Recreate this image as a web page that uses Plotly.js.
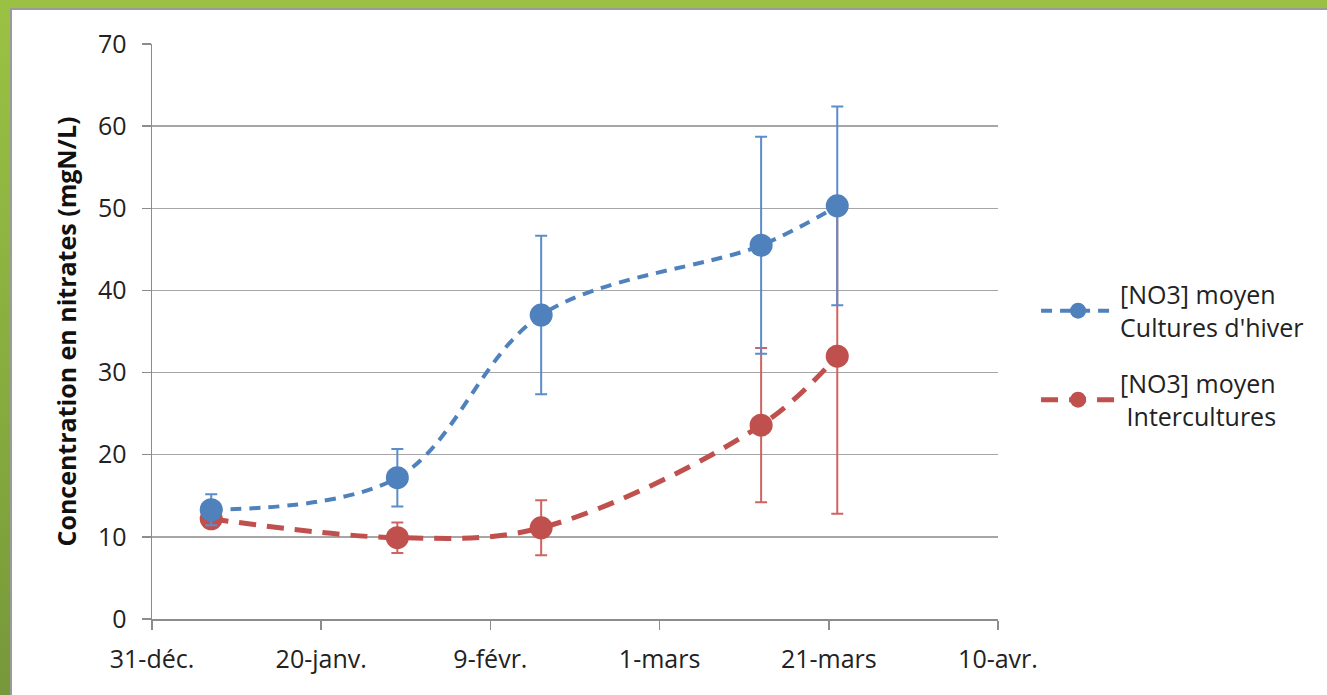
<!DOCTYPE html>
<html>
<head>
<meta charset="utf-8">
<script src="https://cdn.plot.ly/plotly-3.0.1.min.js"></script>
<style>
html,body{margin:0;padding:0;width:1327px;height:695px;overflow:hidden;}
body{background:linear-gradient(180deg,#9bc144 0%,#86aa3e 60%,#77973a 100%);}
#frame{position:absolute;left:10px;top:8px;width:1317px;height:687px;background:#fff;border-left:2px solid #9a9a9a;border-top:2px solid #9a9a9a;box-sizing:border-box;}
#chart{position:absolute;left:0;top:0;width:1315px;height:685px;}
</style>
</head>
<body>
<div id="frame"><div id="chart"></div></div>
<script>
const dates = ['2010-01-07','2010-01-29','2010-02-15','2010-03-13','2010-03-22'];
const culturesHiver = [13.3, 17.2, 37.0, 45.5, 50.3];
const culturesHiverErr = [1.9, 3.5, 9.65, 13.2, 12.1];
const intercultures = [12.2, 9.9, 11.1, 23.6, 32.0];
const interculturesErr = [1.0, 1.85, 3.35, 9.4, 19.2];
const tickVals = ['2009-12-31','2010-01-20','2010-02-09','2010-03-01','2010-03-21','2010-04-10'];
const tickText = ['31-déc.','20-janv.','9-févr.','1-mars','21-mars','10-avr.'];
const seriesNames = ['[NO3] moyen<br>Cultures d\'hiver','[NO3] moyen<br> Intercultures'];

const red = {
  x: dates, y: intercultures, name: seriesNames[1], legendgroup: 'b', legendrank: 2, type: 'scatter', mode: 'lines+markers',
  line: {color: '#c0504d', width: 5, dash: '17px,11px', shape: 'spline', smoothing: 1},
  marker: {color: '#c0504d', size: 23},
  error_y: {type: 'data', array: interculturesErr, visible: true, color: '#d06462', thickness: 2, width: 6}
};
const blue = {
  x: dates, y: culturesHiver, name: seriesNames[0], legendgroup: 'a', legendrank: 1, type: 'scatter', mode: 'lines+markers',
  line: {color: '#4f81bd', width: 4, dash: '11px,8px', shape: 'spline', smoothing: 1},
  marker: {color: '#4f81bd', size: 23},
  error_y: {type: 'data', array: culturesHiverErr, visible: true, color: '#5a8dca', thickness: 2, width: 6}
};

const layout = {
  width: 1315, height: 685,
  margin: {l: 140, r: 329, t: 34, b: 76},
  paper_bgcolor: '#ffffff', plot_bgcolor: '#ffffff',
  font: {family: 'Open Sans, sans-serif', size: 25, color: '#222'},
  showlegend: true,
  legend: {x: 1.045, y: 0.604, xanchor: 'left', yanchor: 'top', traceorder: 'grouped',
           font: {size: 25, color: '#222'}, tracegroupgap: 21, itemwidth: 74, bgcolor: 'rgba(0,0,0,0)'},
  xaxis: {
    type: 'date', range: ['2009-12-31','2010-04-10'],
    tickmode: 'array', tickvals: tickVals, ticktext: tickText,
    showgrid: false, showline: true, linecolor: '#8c8c8c', linewidth: 1.5,
    ticks: 'outside', ticklen: 9, tickcolor: '#8c8c8c', tickwidth: 1.5,
    tickfont: {size: 25, color: '#222'}, ticklabelstandoff: 8, zeroline: false, fixedrange: true
  },
  yaxis: {
    range: [0, 70], dtick: 10, tick0: 0,
    showgrid: true, gridcolor: '#a6a6a6', gridwidth: 1.5,
    showline: true, linecolor: '#8c8c8c', linewidth: 1.5,
    ticks: 'outside', ticklen: 9, tickcolor: '#8c8c8c', tickwidth: 1.5,
    tickfont: {size: 25, color: '#222'}, ticklabelstandoff: 10, zeroline: false,
    title: {text: 'Concentration en nitrates (mgN/L)', font: {size: 25, color: '#111', weight: 'bold'}, standoff: 14}
  }
};

Plotly.newPlot('chart', [red, blue], layout, {displayModeBar: false, staticPlot: true});
</script>
</body>
</html>
